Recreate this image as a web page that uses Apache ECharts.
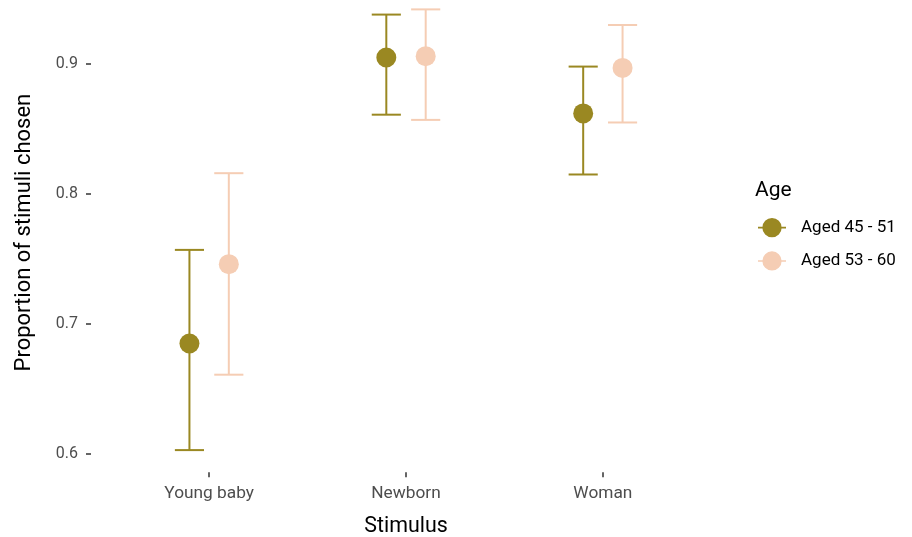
<!DOCTYPE html>
<html>
<head>
<meta charset="utf-8">
<script src="https://cdn.jsdelivr.net/npm/echarts@6/dist/echarts.min.js"></script>
<style>
  html, body { margin: 0; padding: 0; background: #ffffff; }
  #chart { width: 912px; height: 537px; }
</style>
</head>
<body>
<div id="chart"></div>
<script>
// Proportion of stimuli chosen, by stimulus and age group (mean with error bars)
const categories = ['Young baby', 'Newborn', 'Woman'];
const ageGroups = ['Aged 45 - 51', 'Aged 53 - 60'];

const meanYounger  = [0.685, 0.905, 0.862];
const lowerYounger = [0.603, 0.861, 0.815];
const upperYounger = [0.757, 0.938, 0.898];

const meanOlder  = [0.746, 0.906, 0.897];
const lowerOlder = [0.661, 0.857, 0.855];
const upperOlder = [0.816, 0.942, 0.930];

const yTicks = [0.6, 0.7, 0.8, 0.9];

const colors = ['#9A8822', '#F5CDB4'];
const dodge = 0.1;      // horizontal offset of each age group from the category centre
const capHalf = 0.074;  // half width of the error bar caps, in category units

function buildData(means, lows, highs, offset) {
  return categories.map((c, k) => [k + 1 + offset, means[k], lows[k], highs[k]]);
}

function renderItem(params, api) {
  const x = api.value(0);
  const mean = api.coord([x, api.value(1)]);
  const lo = api.coord([x, api.value(2)]);
  const hi = api.coord([x, api.value(3)]);
  const left = api.coord([x - capHalf, api.value(2)])[0];
  const right = api.coord([x + capHalf, api.value(2)])[0];
  const color = api.visual('color');
  const lineStyle = { stroke: color, lineWidth: 2 };
  return {
    type: 'group',
    children: [
      { type: 'line', shape: { x1: lo[0], y1: lo[1], x2: hi[0], y2: hi[1] }, style: lineStyle },
      { type: 'line', shape: { x1: left, y1: lo[1], x2: right, y2: lo[1] }, style: lineStyle },
      { type: 'line', shape: { x1: left, y1: hi[1], x2: right, y2: hi[1] }, style: lineStyle },
      { type: 'circle', shape: { cx: mean[0], cy: mean[1], r: 10 }, style: { fill: color } }
    ]
  };
}

// legend key: point with a short horizontal bar through it
const legendIcon = 'path://M0,8.85H28V10.45H0Z M14,0A9.65,9.65 0 1,1 13.99,0Z';

const chart = echarts.init(document.getElementById('chart'), null, { renderer: 'canvas' });
chart.setOption({
  animation: false,
  backgroundColor: '#ffffff',
  textStyle: { fontFamily: 'Roboto' },
  // the panel extends a little above the visible top edge
  grid: { left: 91, right: 191, top: -7, bottom: 64.8, outerBoundsMode: 'none', containLabel: false },
  title: {
    text: 'Age',
    left: 755,
    top: 180,
    padding: 0,
    textStyle: { fontFamily: 'Roboto', fontSize: 21, fontWeight: 'normal', color: '#000000' }
  },
  legend: {
    orient: 'vertical',
    left: 758,
    top: 218,
    padding: 0,
    itemWidth: 28,
    itemHeight: 19.3,
    itemGap: 14,
    icon: legendIcon,
    data: ageGroups,
    textStyle: { fontFamily: 'Roboto', fontSize: 17, color: '#000000', padding: [0, 0, 0, 10] }
  },
  xAxis: {
    type: 'value',
    min: 0.4,
    max: 3.6,
    name: 'Stimulus',
    nameLocation: 'middle',
    nameGap: 44,
    nameTextStyle: { fontFamily: 'Roboto', fontSize: 21.4, color: '#000000' },
    axisLine: { show: false },
    splitLine: { show: false },
    axisTick: { show: true, length: 5, customValues: [1, 2, 3], lineStyle: { color: '#333333', width: 1.5 } },
    axisLabel: {
      customValues: [1, 2, 3],
      formatter: v => categories[Math.round(v) - 1],
      fontFamily: 'Roboto',
      fontSize: 17.3,
      color: '#4d4d4d',
      margin: 13
    }
  },
  yAxis: {
    type: 'value',
    min: 0.586,
    max: 0.9546,
    name: 'Proportion of stimuli chosen',
    nameLocation: 'middle',
    nameGap: 56,
    nameTextStyle: { fontFamily: 'Roboto', fontSize: 22, color: '#000000' },
    axisLine: { show: false },
    splitLine: { show: false },
    axisTick: { show: true, length: 5, customValues: yTicks, lineStyle: { color: '#333333', width: 1.5 } },
    axisLabel: {
      customValues: yTicks,
      formatter: v => v.toFixed(1),
      fontFamily: 'Roboto',
      fontSize: 16,
      color: '#4d4d4d',
      margin: 13
    }
  },
  series: [
    {
      name: ageGroups[0],
      type: 'custom',
      renderItem: renderItem,
      itemStyle: { color: colors[0] },
      encode: { x: 0, y: [1, 2, 3] },
      data: buildData(meanYounger, lowerYounger, upperYounger, -dodge)
    },
    {
      name: ageGroups[1],
      type: 'custom',
      renderItem: renderItem,
      itemStyle: { color: colors[1] },
      encode: { x: 0, y: [1, 2, 3] },
      data: buildData(meanOlder, lowerOlder, upperOlder, dodge)
    }
  ]
});
</script>
</body>
</html>
